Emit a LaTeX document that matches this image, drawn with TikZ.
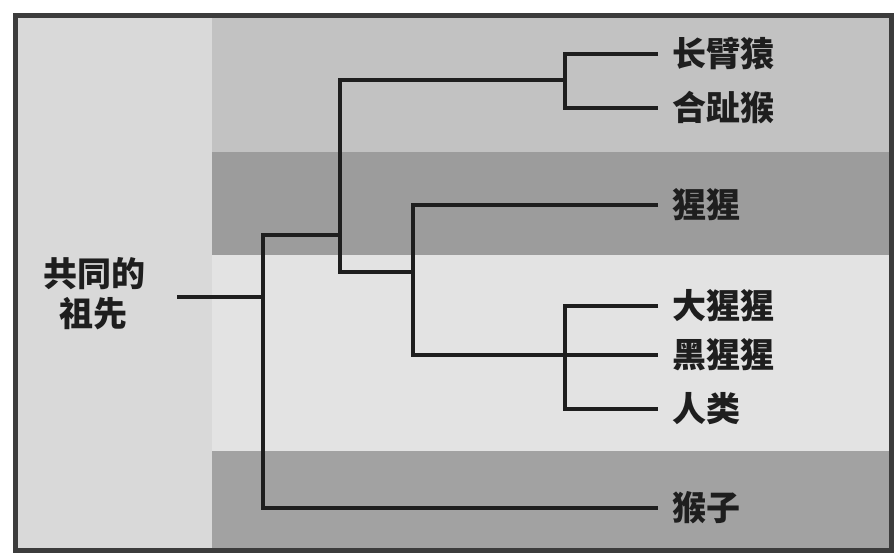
\documentclass[tikz,border=0pt]{standalone}
\usepackage{fontspec}
\newfontfamily\cjk{Noto Sans CJK SC}
\definecolor{leftcol}{HTML}{D9D9D9}
\definecolor{bandA}{HTML}{C2C2C2}
\definecolor{bandB}{HTML}{9C9C9C}
\definecolor{bandC}{HTML}{E3E3E3}
\definecolor{bandD}{HTML}{A2A2A2}
\definecolor{ink}{HTML}{1E1E1E}
\definecolor{frame}{HTML}{3C3C3C}
\begin{document}
\begin{tikzpicture}[x=1pt,y=-1pt,
  tree/.style={line width=4.5pt, draw=ink, line join=miter, line cap=butt},
  tostart/.style={shorten <=14pt},
  toend/.style={shorten >=14pt},
  lab/.style={font=\cjk\bfseries\fontsize{34}{34}\selectfont, anchor=west, inner sep=0pt, text=ink},
  anc/.style={font=\cjk\bfseries\fontsize{34}{40}\selectfont, align=center, inner sep=0pt, text=ink}]
\useasboundingbox (0,0) rectangle (895,553);
\fill[white] (0,0) rectangle (895,553);
% background bands
\fill[leftcol] (18,18) rectangle (212,549);
\fill[bandA] (212,18) rectangle (890,152);
\fill[bandB] (212,152) rectangle (890,255);
\fill[bandC] (212,255) rectangle (890,451);
\fill[bandD] (212,451) rectangle (890,549);
\draw[line width=5pt, draw=frame] (15.5,16) rectangle (891.5,550.5);
% labels
\node[anc] (anc) at (94,294) {共同的\\祖先};
\node[lab] (l1) at (672,54) {长臂猿};
\node[lab] (l2) at (672,108) {合趾猴};
\node[lab] (l3) at (672,205) {猩猩};
\node[lab] (l4) at (672,306) {大猩猩};
\node[lab] (l5) at (672,355) {黑猩猩};
\node[lab] (l6) at (672,409) {人类};
\node[lab] (l7) at (672,508) {猴子};
% internal nodes
\coordinate (r0) at (177,297);
\coordinate (R) at (263,297);
\coordinate (H) at (340,235);
\coordinate (G) at (565,80);
\coordinate (Gr) at (413,272);
\coordinate (A) at (565,355);
% tree
\draw[tree] (r0) -- (R);
\draw[tree, toend] (H) -| (R) |- (l7.west);
\draw[tree] (G) -| (H) |- (Gr);
\draw[tree, tostart, toend] (l1.west) -| (G) |- (l2.west);
\draw[tree, tostart, toend] (l3.west) -| (Gr) |- (A) -- (l5.west);
\draw[tree, tostart, toend] (l4.west) -| (A) |- (l6.west);
\end{tikzpicture}
\end{document}
